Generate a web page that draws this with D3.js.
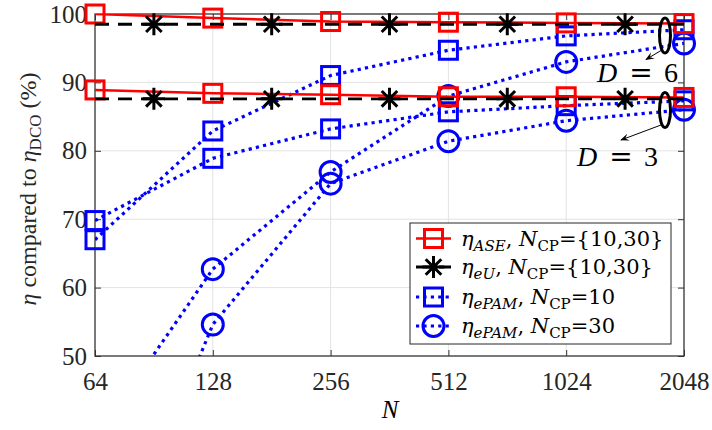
<!DOCTYPE html>
<html>
<head>
<meta charset="utf-8">
<script src="https://cdn.jsdelivr.net/npm/d3@7"></script>
<style>
body { margin: 0; background: #fff; }
text { font-family: "Liberation Serif", "DejaVu Serif", serif; }
</style>
</head>
<body>
<script>
// data
var N = [64, 128, 256, 512, 1024, 2048];
var aseD6 = [100, 99.4, 98.9, 98.8, 98.7, 98.6];
var aseD3 = [88.9, 88.4, 88.2, 87.9, 87.9, 87.8];
var eUN = [64, 90.5, 181, 362, 724, 1448, 2048];
var eUD6 = [98.5, 98.5, 98.5, 98.5, 98.5, 98.5, 98.5];
var eUD3 = [87.6, 87.6, 87.6, 87.6, 87.6, 87.6, 87.6];
var pam10D6 = [67.0, 82.9, 91.0, 94.7, 96.8, 97.7];
var pam10D3 = [69.8, 78.9, 83.2, 85.7, 86.6, 87.3];
var pam30D6 = [37.8, 62.7, 76.9, 88.0, 93.0, 95.7];
var pam30D3 = [12.7, 54.6, 75.2, 81.4, 84.4, 86.0];
var yTicks = [50, 60, 70, 80, 90, 100];

var width = 712, height = 430;
// plot box edges
var pLeft = 95, pRight = 684, pTop = 14, pBottom = 356;

var svg = d3.select("body").append("svg")
.attr("width", width)
.attr("height", height);

var x = d3.scaleLog().base(2).domain([64, 2048]).range([pLeft, pRight]);
var y = d3.scaleLinear().domain([50, 100]).range([pBottom, pTop]);

svg.append("defs").append("clipPath").attr("id", "plot")
.append("rect").attr("x", pLeft).attr("y", pTop)
.attr("width", pRight - pLeft).attr("height", pBottom - pTop);

// grid
svg.append("g").selectAll("line").data(N.slice(1, -1)).enter().append("line")
.attr("x1", function(d){ return x(d); }).attr("x2", function(d){ return x(d); })
.attr("y1", pTop).attr("y2", pBottom)
.attr("stroke", "#e3e3e3").attr("stroke-width", 1);
svg.append("g").selectAll("line").data(yTicks.slice(1, -1)).enter().append("line")
.attr("x1", pLeft).attr("x2", pRight)
.attr("y1", function(d){ return y(d); }).attr("y2", function(d){ return y(d); })
.attr("stroke", "#e3e3e3").attr("stroke-width", 1);

// axes with inward ticks on all four sides
var axisColor = "#333";
function styleAxis(g) {
	g.select(".domain").remove();
	g.selectAll(".tick line").attr("stroke", axisColor).attr("stroke-width", 1);
	g.selectAll(".tick text").attr("fill", "#262626")
	.style("font-family", "Liberation Serif").style("font-size", "25px");
}
svg.append("g").attr("transform", "translate(0," + pBottom + ")")
.call(d3.axisBottom(x).tickValues(N).tickFormat(d3.format("d")).tickSizeInner(-6).tickSizeOuter(0).tickPadding(16))
.call(styleAxis);
svg.append("g").attr("transform", "translate(0," + pTop + ")")
.call(d3.axisTop(x).tickValues(N).tickFormat("").tickSizeInner(-6).tickSizeOuter(0))
.call(styleAxis);
svg.append("g").attr("transform", "translate(" + pLeft + ",0)")
.call(d3.axisLeft(y).tickValues(yTicks).tickSizeInner(-6).tickSizeOuter(0).tickPadding(8))
.call(styleAxis);
svg.append("g").attr("transform", "translate(" + pRight + ",0)")
.call(d3.axisRight(y).tickValues(yTicks).tickFormat("").tickSizeInner(-6).tickSizeOuter(0))
.call(styleAxis);
svg.append("rect").attr("x", pLeft).attr("y", pTop)
.attr("width", pRight - pLeft).attr("height", pBottom - pTop)
.attr("fill", "none").attr("stroke", axisColor).attr("stroke-width", 1.3);

var line = d3.line()
.x(function(d){ return x(d[0]); })
.y(function(d){ return y(d[1]); });

var plot = svg.append("g");

function drawLine(xs, ys, color, dash, w) {
	plot.append("path")
	.attr("clip-path", "url(#plot)")
	.attr("d", line(d3.zip(xs, ys)))
	.attr("fill", "none")
	.attr("stroke", color)
	.attr("stroke-width", w)
	.attr("stroke-dasharray", dash);
}

function square(g, cx, cy, color) {
	g.append("rect").attr("x", cx - 9).attr("y", cy - 9)
	.attr("width", 18).attr("height", 18)
	.attr("fill", "none").attr("stroke", color).attr("stroke-width", 3);
}
function circle(g, cx, cy, color) {
	g.append("circle").attr("cx", cx).attr("cy", cy).attr("r", 10.5)
	.attr("fill", "none").attr("stroke", color).attr("stroke-width", 3);
}
function star(g, cx, cy, color) {
	var s = 11, t = 7.8;
	var p = "M" + (cx - s) + "," + cy + "H" + (cx + s) +
	"M" + cx + "," + (cy - s) + "V" + (cy + s) +
	"M" + (cx - t) + "," + (cy - t) + "L" + (cx + t) + "," + (cy + t) +
	"M" + (cx - t) + "," + (cy + t) + "L" + (cx + t) + "," + (cy - t);
	g.append("path").attr("d", p).attr("stroke", color).attr("stroke-width", 3).attr("fill", "none");
}

function drawMarkers(xs, ys, fn, color) {
	xs.forEach(function(n, i) {
		if (ys[i] >= 49 && ys[i] <= 101) fn(plot, x(n), y(ys[i]), color);
	});
}

var blue = "#0000ff", red = "#ff0000";
var dotted = "3.2,4.2";

// ePAM lines
drawLine(N, pam30D3, blue, dotted, 3.2);
drawLine(N, pam30D6, blue, dotted, 3.2);
drawLine(N, pam10D3, blue, dotted, 3.2);
drawLine(N, pam10D6, blue, dotted, 3.2);
drawMarkers(N, pam30D3, circle, blue);
drawMarkers(N, pam30D6, circle, blue);
drawMarkers(N, pam10D3, square, blue);
drawMarkers(N, pam10D6, square, blue);

// ASE
drawLine(N, aseD6, red, null, 2.5);
drawLine(N, aseD3, red, null, 2.5);
drawMarkers(N, aseD6, square, red);
drawMarkers(N, aseD3, square, red);

// eU
drawLine(eUN, eUD6, "#000", "14,9", 2.8);
drawLine(eUN, eUD3, "#000", "14,9", 2.8);
drawMarkers(eUN.slice(1, -1), eUD6.slice(1, -1), star, "#000");
drawMarkers(eUN.slice(1, -1), eUD3.slice(1, -1), star, "#000");

// annotations
svg.append("defs").append("marker").attr("id", "arrow")
.attr("viewBox", "0 0 10 10").attr("refX", 9).attr("refY", 5)
.attr("markerWidth", 9).attr("markerHeight", 9).attr("orient", "auto-start-reverse")
.attr("markerUnits", "userSpaceOnUse")
.append("path").attr("d", "M0,1 L10,5 L0,9 L4,5 Z").attr("fill", "#000");

function annotate(cy, x2, y2, label, dx, ty) {
	svg.append("ellipse").attr("cx", 665).attr("cy", cy).attr("rx", 5.5).attr("ry", 17.5)
	.attr("fill", "none").attr("stroke", "#000").attr("stroke-width", 3);
	svg.append("line").attr("x1", 661).attr("y1", cy + 15).attr("x2", x2).attr("y2", y2)
	.attr("stroke", "#000").attr("stroke-width", 1).attr("marker-end", "url(#arrow)");
	// D, = and the digit placed one by one, like the LaTeX spacing
	svg.append("text").attr("x", dx).attr("y", ty).style("font-size", "28px")
	.style("font-style", "italic").text("D");
	svg.append("text").attr("x", dx + 44).attr("y", ty).attr("text-anchor", "middle")
	.style("font-family", "DejaVu Serif").style("font-size", "28px").text("=");
	svg.append("text").attr("x", dx + 67).attr("y", ty).style("font-size", "28px").text(label);
}
annotate(35.5, 646, 59.5, "6", 597, 82);
annotate(110, 621, 140, "3", 577, 166);

// axis labels
svg.append("text").attr("x", 390).attr("y", 418).attr("text-anchor", "middle")
.style("font-size", "25px").style("font-style", "italic").text("N");

var yl = svg.append("text").attr("transform", "translate(36,189) rotate(-90)")
.attr("text-anchor", "middle").style("font-size", "24px").attr("fill", "#262626");
yl.append("tspan").style("font-style", "italic").text("η");
yl.append("tspan").text(" compared to ");
yl.append("tspan").style("font-style", "italic").text("η");
yl.append("tspan").attr("dy", 5).style("font-size", "17px").text("DCO");
yl.append("tspan").attr("dy", -5).text(" (%)");

// legend
var legend = svg.append("g");
legend.append("rect").attr("x", 410).attr("y", 223).attr("width", 261).attr("height", 121)
.attr("fill", "#fff").attr("stroke", "#262626").attr("stroke-width", 1);

var legendItems = [
	{ sub: "ASE", cp: "={10,30}", color: red, dash: null, mark: square, w: 2.5 },
	{ sub: "eU", cp: "={10,30}", color: "#000", dash: "14,9", mark: star, w: 2.8 },
	{ sub: "ePAM", cp: "=10", color: blue, dash: dotted, mark: square, w: 3.2 },
	{ sub: "ePAM", cp: "=30", color: blue, dash: dotted, mark: circle, w: 3.2 }
];
var legendY = [238.5, 267, 297, 326];
legendItems.forEach(function(d, i) {
	var ly = legendY[i];
	legend.append("line").attr("x1", 416).attr("x2", 451).attr("y1", ly).attr("y2", ly)
	.attr("stroke", d.color).attr("stroke-width", d.w).attr("stroke-dasharray", d.dash);
	d.mark(legend, 433.5, ly, d.color);
	var t = legend.append("text").attr("x", 461).attr("y", ly + 7)
	.style("font-family", "DejaVu Serif").style("font-size", "21px");
	t.append("tspan").style("font-style", "italic").text("η");
	t.append("tspan").attr("dy", 5).style("font-size", "15px").style("font-style", "italic").text(d.sub);
	t.append("tspan").attr("dy", -5).text(", ");
	t.append("tspan").style("font-style", "italic").text("N");
	t.append("tspan").attr("dy", 5).style("font-size", "15px").text("CP");
	t.append("tspan").attr("dy", -5).text(d.cp);
});
</script>
</body>
</html>
